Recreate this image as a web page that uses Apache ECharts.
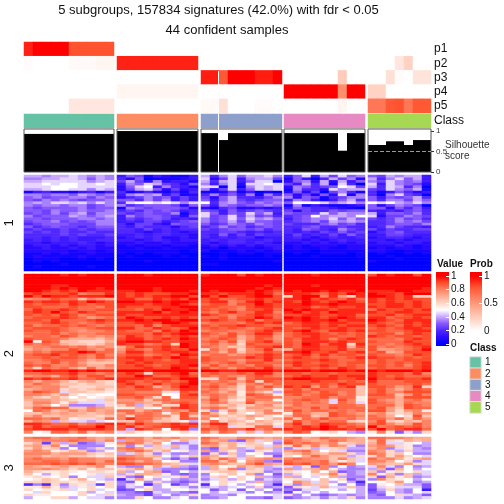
<!DOCTYPE html>
<html><head><meta charset="utf-8">
<style>html,body{margin:0;padding:0;background:#fff}#c{width:504px;height:504px}</style>
<script src="https://cdn.jsdelivr.net/npm/echarts@6/dist/echarts.min.js"></script>
</head><body><div id="c"></div>
<script>
const groupSizes=[10,9,9,9,7];
const classColors=['#66C2A5','#FC8D62','#8DA0CB','#E78AC3','#A6D854'];
const probRowNames=['p1','p2','p3','p4','p5'];
const p1=[.92,1,1,1,1,.8,.8,.8,.8,.8, 0,0,0,0,0,0,0,0,0, 0,0,0,0,0,0,0,0,0, 0,0,0,0,0,0,0,0,0, 0,0,0,0,0,0,0];
const p2=[.02,0,0,0,0,.03,.03,.03,.05,.05, .92,.92,.92,.92,.92,.92,.92,.92,.92, 0,0,0,0,0,0,0,0,0, 0,0,0,0,0,0,0,0,0, 0,0,0,.12,.22,0,0];
const p3=[0,0,0,0,0,0,0,0,0,0, 0,0,0,0,0,0,0,0,0, .93,.93,.78,1,1,1,.93,.93,1, 0,0,0,0,0,0,.25,0,0, 0,0,.15,.02,0,.13,.13];
const p4=[0,0,0,0,0,0,0,0,0,0, .05,.05,.05,.05,.05,.05,.05,.05,.05, 0,0,0,0,0,0,0,0,0, 1,1,1,1,1,1,.55,1,1, .22,.22,0,0,0,0,0];
const p5=[0,0,0,0,0,.12,.12,.12,.12,.12, 0,0,0,0,0,0,0,0,0, .03,.03,.15,0,0,0,.02,.02,0, 0,0,0,0,0,0,.05,0,0, .65,.65,.78,.8,.65,.78,.78];
const silhouette=[.93,.93,.93,.93,.93,.93,.93,.93,.93,.93, 1,1,1,1,1,1,1,1,1, .95,.95,.78,.95,.95,.95,.95,.95,.95, .95,.95,.95,.95,.95,.95,.52,.95,.95, .66,.66,.75,.75,.66,.78,.78];
const sliceNames=['1','2','3'];
// each letter is one estimated cell value: a=0 ... k=0.5 ... u=1, one word per subgroup
const slice1Rows=[
'iihiijihih dgfbdcbbd iehjgiijh dgjdifjgh gfihiid',
'hhiijjigih ecgabbbcd jcfjdhiif bgdaeifhc iehjgid',
'iijjjjjhij fifchcddb ieijdgjja cghcicidg hfjhghd',
'jjkjkkjjkj dhgjifecg hdhjcjjkj fdieibjea jdjhgfc',
'jjjkkkjjjj cgjkdhedb jjajahjij chgefgkjf iejieha',
'iijkkjjhji cfijgcfcd hcfjdgjij bheecjhii fejhgib',
'bdeccbdebd ebcecbdbe bbcfbdaba cgcfafheb ebdgecd',
'hhghhgihgh dhihidfbc ehegdhbhe gcfbgcjbh eahjfea',
'ghfgghhfhg cefhfgdfd fcgieedfh hcgfbefhh gdgfgie',
'gfhghgfggh ggehfhdfd gdgifefgg dhgdbdgie gehhfig',
'hihjjijhjh ejkkjkjhj kehigfhgh gkkkjhijh kjkihjh',
'hghhghhfgh hefgggfcg gdhgfgghg bhbdcbbcd gcfhgfa',
'gfgggghfgg bhgfgggfc cbefccdcd dgfeedcba ggcgegd',
'ggfhgghggh efegfgfde gfdgefgfe fcfeegfgg ededfge',
'fgfhfhifhh fefgffhbe jgdgfjgid gfffjgihh idggfhe',
'hfgggihghi dhfggfecg jfgjfifge efgkhiihk jcffhgf',
'ggfggghhgh dfefgfded hfgjgjhig dfghhjgig fefhfge',
'fgghfgfghh dedffdefg hfgifiggf efghfihih eefhghf',
'efgggfffhh ecffdcgff gefhgfhgf feeeghfge eefggfh',
'gefgffefgg edfeeecef efhfgefgf eefgeefee dehfeed',
'efeefefeff eedfdedee fefggfgef edgfedhfe fdfeeff',
'fefefeefee eedcdedcd eeffedede ededfegef cefgeee',
'eeeefefeef ddedeeddc edgdfdfee dfdedfdge ddffedd',
'eedededdde cdedeccdc ededeecdd dedcdedde cdeedcd',
'dedededdee ddcdedcdd dedeedded ddcdcdedd ddcdcdd',
'ddcdddedcd ccdccdccc dcdeededc ccdcdcdcd cddcddc',
'cddcdcddcd bcbccbccb cdcdcdcdd bcbcccbcc cccdcbc',
'ccdccdcdcc bbcbbcbbb bcacccbcd bcbbcbbcc bcbccbc',
'cccccbccbc bbbbbbbab cabbcbcbc bbbabbbbb ccbabbb',
'bbcbcbbcbb bababbbaa aababbabb abaabbbab abaabab',
'bcbbbbcbbb abaaababa babaaaaba aaabaaaab aabaaaa',
'abbbaababa aaaaaaaaa aabaaaaaa aaaaaaaaa aaabaaa',
'ababaaaaaa aaabaaaaa aaaaaaaab aaaaaaaaa baaaaaa',
'aaaabaaaaa aaaaaaaaa bbaaaaaaa aaaaaaaaa aaaaaaa',
'abaaaaabaa aaaaaaaaa aaaaaaaaa aaaaaaaaa aaaaaaa',
'aaaaaaaaaa aaaaaaaaa aaaaaaaaa aaaaaaaaa aaaaaaa'];
const slice2Rows=[
'uuuututuuu uuutuuuuu tuuusutuu uuutuuuuu sutuusu',
'uuuuuuuuuu uuuuuuuuu uuuuuuuuu uuuuuuuuu uuuuuuu',
'uuuuuuuuuu uuuuuuuuu uuuuuuuuu uuuuuuuuu uuuuuuu',
'uuuuuuuuuu uuuuuuuuu uuuuuuuuu uuuuuuuuu uuuuuuu',
'uuuttuuuuu uuuuuuuuu uuuuuuutu uuutuuuuu uuuuuuu',
'uuututuutu uuuutuuuu uuuuuutut uuuuuuuuu uuuuuut',
'uutstsuttt ttuutuuut utuuututs utuututtu tttuutt',
'stssstqrrt tstsssttu ttstttutr tttsrtsut uttsuuu',
'usuttstttu tststtuus ususstuus mtuuqtpmt uutstmm',
'pqqsrrnqpo ttrrtstsu strrsstss ttustsrtr tststss',
'tsttstsuts uuttutuut sttqrtust tsutstuts tstssts',
'srssrtsrss tttsttuts rssqssuts ttuttuttt ssttsts',
'ssrrrsrrqs tssssttuu ssrrqstts tttrstsst tsttsts',
'rtsstsrrss ssrtsuttu srsrqsstr ututtsttt rtsstst',
'stsusrtsrr ttttustut rqstrrttq tustsuttt tssttss',
'srsrtsqrss tsstttttt tsrqrstsr ssttssttr sstrstt',
'rssstsrpqr sutsststs rrsqssutr ututstuts ttrssts',
'ssrtrrrsts ttutuutuu stsrstqss ttuttustt utsrttt',
'rrstsrqrsr ssttsuuts qrrrqstst rsttsttss tsrstst',
'sqrrsrsrqr ssrtqsttt srsstssrr ssttststt stsrtst',
'rsssrqqrss ttrrtsrsu rsrsrqrst srstsstss rsrstts',
'srrsrqpqqr srrsqtsut qrrqqrsts stusrttst ssrrstt',
'rrrsqrqqrr sssrtstuu srqsqrttq rsttsrsrs rssqsts',
'qrrqsrpqpq rtsrsrsts rqrsoqssp rsstssrrs tsrssrs',
'srrrqooonp sttrstsut qrsroqsrp srttsqsts rrrqsts',
'ulsrnnmmmo tuuttsstt rsqsnrstq srtttstss srrrtss',
'rqrqonnmnp tssqrsmut qrpqmsrrr srutrttmt rrqrsts',
'pqqrrqrpqp ortsstsut rqpnnrsst srttsstos sqrqrst',
'oqpqqsrqpr psrqstssu mrprmqrtp osttsstrr sppqrsu',
'qrqsssutrr qttrsstts rqornqqsr ttusstrst rsopsss',
'rsstrsrqsq rssqrsrut qrrpqrsts rstrtrssr srrqrts',
'rrsrssrqsr sttstsuts srrrrtsts stsrsrrst tssrsrs',
'qqrsrrqopo sstssrstt srrqprrtq rssstsrrs rsrrsss',
'rqqsqrpnnn ststssstt rqrsqssrr stsrssrss rsrsrst',
'srsqqrqooq sstsrsttu qsqrrqssq rtsstsrsr ssrsqst',
'qmrqrpnrop ssstssuts sqrprsrtr srsrsrtsr rsrrrst',
'tuuttututt uuutuuuuu uuttuuuut uuutuuutu utuuutu',
'rrssstrrqr stsmsstur rsrrsrttq ssrssrsss tsssrtq',
'pqqorsqssq ssutrrsts rqrqprsrq rstsststt tsrsrrr',
'tstsstrrst tttsttsuu mmrsnrsss tuutttsst usstsst',
'qoqqomopnm tsrsrsrsu rqrqpsmsr ssstssrsr trrrsss',
'prqpnnmnnm strrtrstu qrqrnqrpr sssrsrtss srrrrsr',
'qpqqommmnn srtsoqsut rsqpmrpsq tstpsqstn ssrpqtm',
'opqqmnmnom rrssrqrtt qrpomrqql rsqsrrrrn rsqoqsr',
'qsrqjnnmml rrqqqmjsr rqoqlqomi ssrqsrqrn rsqqsss',
'qqpnpmklkk ssrrrkkst qrqplsrql rsqrssqrn ssrnpsq',
'pnmomkmklm rrsqmrkss orqomqrrq qqrrsqrrl rrrosss',
'opponmlmjn ppqnqrqrr qspmlrqqk qrsrqjsql sqpoqrp',
'nqqolojjjm qqponqrsr prqnnsopp qrqrqjrqj srqorqq',
'npoknhhhim nqinqmmts opnomnpqn prqqqrrrq rrrosrq',
'orsrrnnqpo llolkqsts qrqnlppoo rqqsqsrrr rspnsrr',
'krqnoqoqop rroqrpqps mhmqmnoql qsqrrqrqr sspmpql',
'nnpopoonop prqrqlpsq rolomknqq lrqoosrqp pqnmnqp',
'oqnnoonnmn qmrrqqmsn pqnmnpomk orrnosrrq rqokmsn',
'rrqrolmmnr qtrrpnmsr qkmnmokmo rnrqsqqrp rrprnrp',
'oqpinjjijk nnrqnnmli nrmonlonm osqrqrrnm qsnmonq',
'ttsrrsqrst trtrrstst rttnmonol rtqrtssrq rsqopsq',
'rtrsstssus stqrsstts qrsjmmrrj rstsutrsr uqrsrsq',
'sttttsttts sitsrksth srsrrtqrs tsttuttst sursttr',
'qklrrprnpq jnlkmlkml qnrqjojpm qsrklmkih lqlgjhm'];
const slice3Rows=[
'qrrpqqrpop rqqoqpqoo rqooqqpop qroprqqpo rrqqpoo',
'ppqqqrqqoq ipqonoloj qophgojni rqpoprqoo nrmlono',
'mofoioghil qrqnpkhhj rqnojnmkh sqrqpqmno orjjlki',
'opnqlhhhhk nhlinjojh opmolmnjo mrnqnqpjh pqpmlhi',
'mpmnhkhimi qrpmnmijh hgnoijoni hjmijmnii oqhjlih',
'pqplmonhik pqrpmokli phnlihmli pqrokmjhh qpmimii',
'qqqopppnmn ijomhjhhi gmhniklhh noqonppmi rqmnkhh',
'ppnoonnmlm qqpnokiln polminklg mkorpnnim mqmpmkj',
'qrqqprqqpp srqqmigig qnrpjopqp qrqppnqnj rpqolop',
'qqrrqrqqpr rqoqpklhh rrnqkpqhg rqqqrnlnj qqokmhj',
'rrrsrsrsqq ssrrqonmj pqpnnqspo srsqrpsqk ponnpmj',
'ponopnnoql ihhlpjoih ioklpnoij jilgqhkhi jqjhkhi',
'ppqpomolnn mnpmihhhg iomqhnmih pinoqlihh iogokik',
'omllmlkmml oikopghki lmnnlmmhi mlkokoghi nhlmkmj',
'nkilmkkljm imoonlhgh hklnkohkg imkmnqmhi qlnhnij',
'lmlkmhkjjn mhgkmjlnh imnkmkoih oikjkoihh mgolnhi',
'klnmkmokji ejplikihi hjmimkhji lmjknkmgi hqmlkik',
'mmnmmlmmkm hgkhmihgh jkmlkioih kqojnikie kkmpkhi',
'ehemhmljfm hjkeikfhl ekmkilkie mhonnkhkg glkniig',
'llolijlmkm gjilikljh ijijkimhi gmljojjni gjljjjg',
'mkllmjkmjk fgkmiikkj kgikgkikg hgjjkkiki fimihkd',
'kjmkkkmikj hhgfjiihg kikjjhkhi fkikikkki ghkihkj',
'mllkkkmkjm ihhfikhim hiihkkkkj mhkhghihi hgkmjig',
'ikkmmikjjh hhmkhhjkh hhikkhhgj ghijhjimh hhhjhij'];

const valueRamp=['#0000ff','#2a0aff','#5028ff','#8858ff','#c8a8ff','#ffffff','#ffd6c8','#ffae94','#ff8363','#ff4e2c','#ff0000'];
const probRamp=['#ffffff','#ffd6c8','#ffae94','#ff8363','#ff5330','#ff0000'];
const valueTicks=[0,.2,.4,.6,.8,1], probTicks=[0,.5,1], silTicks=[0,.5,1];

const groupBoxes=[[24,90],[117,81],[201,81],[284,81],[368,63]];
const sliceBoxes=[[175,96],[274,159.5],[437,62]];
const allRows=[slice1Rows,slice2Rows,slice3Rows];
const range=n=>Array.from({length:n},(_,i)=>i);
const font='"Liberation Sans",Arial,sans-serif';
const grid=[],xAxis=[],yAxis=[],series=[];
const valueSeries=[],probSeries=[];
function addGrid(box,xOpt,yOpt){
  grid.push(Object.assign({containLabel:false},box));
  const i=grid.length-1;
  xAxis.push(Object.assign({gridIndex:i},xOpt));
  yAxis.push(Object.assign({gridIndex:i},yOpt));
  return i;
}
const catAxis=(n,extra)=>Object.assign({type:'category',data:range(n),show:false},extra||{});
const hm=(i,data,extra)=>Object.assign({type:'heatmap',xAxisIndex:i,yAxisIndex:i,data,silent:true,progressive:0,animation:false,itemStyle:{borderWidth:0}},extra||{});
let off=0;
groupBoxes.forEach((b,g)=>{
  const n=groupSizes[g], last=g===groupBoxes.length-1;
  // probability rows
  let idx=addGrid({left:b[0],width:b[1],top:42,height:71},catAxis(n),
    last?{type:'category',data:probRowNames,inverse:true,position:'right',axisLine:{show:false},axisTick:{show:false},axisLabel:{interval:0,fontSize:12,fontFamily:font,color:'#111',margin:3}}:catAxis(5,{inverse:true}));
  const pd=[];
  [p1,p2,p3,p4,p5].forEach((p,r)=>range(n).forEach(c=>pd.push([c,r,p[off+c]])));
  series.push(hm(idx,pd)); probSeries.push(series.length-1);
  // class row
  idx=addGrid({left:b[0],width:b[1],top:114,height:14},catAxis(n),
    last?{type:'category',data:['Class'],position:'right',axisLine:{show:false},axisTick:{show:false},axisLabel:{interval:0,fontSize:12,fontFamily:font,color:'#111',margin:3}}:catAxis(1));
  series.push(hm(idx,range(n).map(c=>({value:[c,0,g+1],itemStyle:{color:classColors[g]}}))));
  // silhouette
  idx=addGrid({left:b[0],width:b[1],top:129,height:43,z:5,show:true,borderColor:'#555',borderWidth:1},catAxis(n),
    {type:'value',min:0,max:1.05,show:last,position:'right',splitLine:{show:false},
     axisLine:{show:false},axisTick:{show:true,length:3,customValues:silTicks,lineStyle:{color:'#333'}},
     axisLabel:{show:true,customValues:silTicks,fontSize:8,fontFamily:font,color:'#333',margin:5}});
  const s={type:'bar',xAxisIndex:idx,yAxisIndex:idx,data:silhouette.slice(off,off+n),barWidth:'100%',silent:true,animation:false,itemStyle:{color:'#000'}};
  if(last) s.markLine={silent:true,symbol:'none',animation:false,label:{show:false},lineStyle:{color:'#999',type:'dashed',width:1},data:[{yAxis:.5}]};
  series.push(s);
  // heatmap slices
  sliceBoxes.forEach((sb,k)=>{
    const rows=allRows[k];
    const yExtra=g===0?{show:true,name:sliceNames[k],nameLocation:'middle',nameRotate:90,nameGap:8,nameTextStyle:{fontSize:13,fontFamily:font,color:'#111'},axisLine:{show:false},axisTick:{show:false},axisLabel:{show:false}}:{};
    const i=addGrid({left:b[0],width:b[1],top:sb[0],height:sb[1]},catAxis(n),catAxis(rows.length,Object.assign({inverse:true},yExtra)));
    const d=[];
    rows.forEach((row,r)=>{
      const word=row.split(' ')[g];
      range(n).forEach(c=>{ if(c<word.length) d.push([c,r,(word.charCodeAt(c)-97)/20]); });
    });
    series.push(hm(i,d)); valueSeries.push(series.length-1);
  });
  off+=n;
});
// colour bars drawn as gradient-filled grids with real value axes
function stops(ramp,lo,hi,yOf,top,h){
  return ramp.map((c,i)=>({offset:Math.min(1,Math.max(0,(yOf(lo+(hi-lo)*i/(ramp.length-1))-top)/h)),color:c})).reverse();
}
function bar(left,width,top,height,zeroY,pxPerUnit,ramp,ticks){
  const min=(zeroY-(top+height))/pxPerUnit, max=(zeroY-top)/pxPerUnit;
  addGrid({left,width,top,height,show:true,borderWidth:0,backgroundColor:new echarts.graphic.LinearGradient(0,0,0,1,stops(ramp,0,1,v=>zeroY-pxPerUnit*v,top,height))},
    {type:'category',data:[0],show:false},
    {type:'value',min,max,position:'right',splitLine:{show:false},axisLine:{show:false},
     axisTick:{show:true,inside:true,length:3,customValues:ticks,lineStyle:{color:'#fff'}},
     axisLabel:{customValues:ticks,fontSize:10,fontFamily:font,color:'#111',margin:2,formatter:v=>String(v)}});
}
bar(436,13,272,74,344,68,valueRamp,valueTicks);
bar(470,12,272,60,331,55,probRamp,probTicks);
const cl=addGrid({left:470,width:11,top:357,height:56},{type:'category',data:[0],show:false},
  {type:'category',data:['1','2','3','4','5'],inverse:true,position:'right',axisLine:{show:false},axisTick:{show:false},axisLabel:{interval:0,fontSize:10,fontFamily:font,color:'#111',margin:4}});
series.push(hm(cl,range(5).map(r=>({value:[0,r,r+1],itemStyle:{color:classColors[r],borderColor:'#e4e4e4',borderWidth:1}}))));

const txt=(text,x,y,size,extra)=>({type:'text',silent:true,style:Object.assign({text,x,y,fill:'#111',font:`${size}px ${font}`,textAlign:'left',textVerticalAlign:'middle'},extra||{})});
const chart=echarts.init(document.getElementById('c'),null,{renderer:'canvas'});
chart.setOption({
  animation:false,backgroundColor:'#fff',grid,xAxis,yAxis,series,
  visualMap:[
    {show:false,type:'continuous',min:0,max:1,dimension:2,seriesIndex:valueSeries,inRange:{color:valueRamp}},
    {show:false,type:'continuous',min:0,max:1,dimension:2,seriesIndex:probSeries,inRange:{color:probRamp}}
  ],
  graphic:[
    txt('5 subgroups, 157834 signatures (42.0%) with fdr < 0.05',218.5,10.5,13,{textAlign:'center'}),
    txt('44 confident samples',227,30,13,{textAlign:'center'}),
    txt('Silhouette',445,145,10,{fill:'#333'}),
    txt('score',445,156,10,{fill:'#333'}),
    txt('Value',437,264,10,{font:`bold 10px ${font}`}),
    txt('Prob',470,264,10,{font:`bold 10px ${font}`}),
    txt('Class',470,348,10,{font:`bold 10px ${font}`}),
    {type:'line',silent:true,z:10,shape:{x1:218.5,y1:71,x2:218.5,y2:172},style:{stroke:'#fff',lineWidth:1}}
  ]
});
</script></body></html>
